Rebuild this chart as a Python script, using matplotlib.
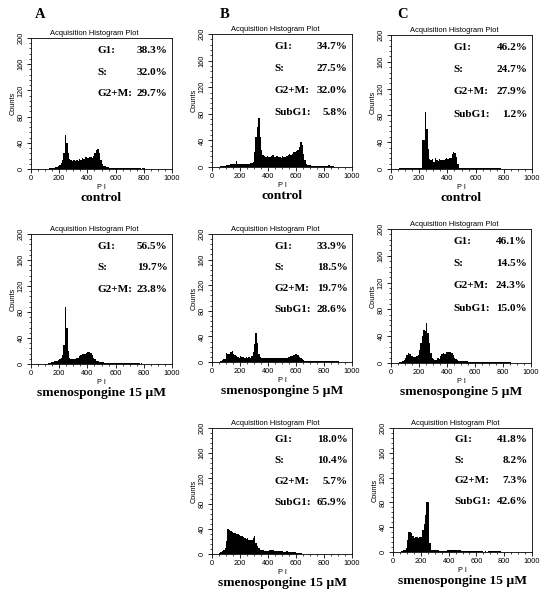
import matplotlib
matplotlib.use("Agg")
import matplotlib.pyplot as plt
from matplotlib.ticker import MultipleLocator
import numpy as np

# channel bins (width 10) 0..990, counts
bin_width = 10
channels = np.arange(0, 1000, bin_width)

counts_a1 = [0, 0, 0, 0, 0, 0, 0, 0, 0, 0,
             0, 0, 0, 2, 2, 2, 2, 3, 3, 4,
             6, 9, 14, 25, 52, 40, 25, 15, 13, 12,
             13, 12, 14, 12, 15, 13, 17, 16, 19, 18,
             17, 18, 19, 17, 20, 24, 29, 30, 24, 14,
             8, 5, 4, 3, 3, 2, 2, 2, 2, 2,
             2, 2, 2, 2, 1, 1, 2, 1, 1, 1,
             1, 1, 1, 1, 1, 1, 1, 1, 0, 1,
             1, 0, 0, 0, 0, 0, 0, 0, 0, 0,
             0, 0, 0, 0, 0, 0, 0, 0, 0, 0]

counts_a2 = [0, 0, 0, 0, 0, 0, 0, 0, 0, 0,
             0, 0, 1, 2, 3, 3, 4, 5, 5, 6,
             8, 10, 14, 30, 88, 55, 20, 10, 8, 8,
             7, 8, 9, 10, 12, 14, 15, 15, 16, 17,
             19, 18, 17, 14, 10, 7, 5, 4, 3, 3,
             3, 3, 2, 2, 2, 2, 2, 2, 1, 1,
             1, 1, 1, 1, 1, 1, 1, 1, 1, 1,
             1, 1, 1, 1, 1, 1, 1, 0, 1, 0,
             0, 0, 0, 0, 0, 0, 0, 0, 0, 0,
             0, 0, 0, 0, 0, 0, 0, 0, 0, 0]

counts_b1 = [0, 0, 0, 0, 0, 0, 2, 2, 2, 2,
             3, 3, 3, 4, 4, 4, 5, 9, 5, 4,
             4, 4, 5, 5, 5, 5, 5, 6, 6, 8,
             22, 45, 60, 74, 45, 25, 18, 16, 15, 16,
             15, 15, 16, 18, 15, 15, 16, 15, 15, 14,
             16, 15, 15, 16, 18, 19, 18, 20, 22, 22,
             24, 25, 30, 37, 33, 20, 10, 5, 3, 3,
             3, 2, 2, 2, 2, 2, 2, 2, 2, 2,
             2, 2, 2, 3, 2, 1, 1, 0, 0, 0,
             0, 0, 0, 0, 0, 0, 0, 0, 0, 0]

counts_b2 = [0, 0, 0, 0, 0, 0, 2, 3, 4, 5,
             14, 12, 13, 15, 17, 12, 11, 9, 8, 7,
             9, 8, 8, 7, 8, 7, 8, 7, 10, 15,
             28, 46, 30, 12, 8, 7, 7, 6, 7, 6,
             7, 6, 7, 7, 6, 7, 6, 7, 7, 7,
             7, 7, 6, 7, 8, 8, 9, 10, 11, 12,
             12, 11, 8, 6, 4, 3, 2, 2, 2, 2,
             2, 2, 2, 2, 2, 2, 2, 2, 2, 2,
             2, 2, 2, 2, 2, 1, 1, 1, 1, 1,
             1, 0, 0, 0, 0, 0, 0, 0, 0, 0]

counts_b3 = [0, 0, 0, 0, 0, 2, 3, 4, 6, 10,
             20, 40, 38, 36, 35, 34, 33, 32, 31, 30,
             28, 29, 27, 26, 24, 25, 23, 22, 22, 26,
             28, 18, 12, 9, 7, 6, 6, 5, 5, 5,
             5, 6, 6, 6, 5, 5, 4, 4, 4, 4,
             4, 3, 3, 4, 3, 3, 3, 3, 3, 3,
             2, 2, 1, 1, 0, 0, 0, 0, 0, 0,
             0, 0, 0, 0, 0, 0, 0, 0, 0, 0,
             0, 0, 0, 0, 0, 0, 0, 0, 0, 0,
             0, 0, 0, 0, 0, 0, 0, 0, 0, 0]

counts_c1 = [0, 0, 0, 0, 0, 0, 1, 2, 2, 2,
             2, 2, 1, 1, 1, 1, 2, 1, 1, 1,
             1, 1, 44, 44, 85, 59, 30, 15, 14, 15,
             10, 17, 13, 12, 15, 14, 13, 14, 15, 16,
             15, 16, 17, 22, 25, 24, 18, 8, 2, 2,
             1, 1, 1, 1, 1, 1, 1, 1, 1, 1,
             1, 1, 1, 1, 1, 1, 1, 1, 1, 1,
             1, 1, 1, 1, 1, 1, 1, 1, 0, 0,
             0, 0, 0, 0, 0, 0, 0, 0, 0, 0,
             0, 0, 0, 0, 0, 0, 0, 0, 0, 0]

counts_c2 = [0, 0, 0, 0, 0, 0, 1, 2, 3, 4,
             8, 12, 15, 14, 11, 10, 9, 9, 10, 12,
             20, 30, 40, 50, 48, 59, 45, 30, 15, 8,
             6, 5, 5, 7, 6, 10, 14, 15, 14, 16,
             17, 16, 17, 15, 12, 8, 6, 4, 3, 3,
             3, 3, 3, 3, 3, 2, 2, 2, 2, 2,
             2, 2, 2, 2, 2, 2, 2, 2, 2, 2,
             2, 2, 2, 2, 2, 2, 2, 2, 2, 2,
             2, 1, 1, 1, 1, 1, 0, 0, 0, 0,
             0, 0, 0, 0, 0, 0, 0, 0, 0, 0]

counts_c3 = [0, 0, 0, 0, 0, 0, 2, 3, 3, 6,
             20, 33, 33, 30, 26, 22, 25, 24, 22, 25,
             24, 35, 45, 60, 80, 80, 15, 4, 4, 4,
             4, 3, 3, 2, 2, 2, 2, 2, 2, 3,
             3, 4, 4, 4, 4, 4, 3, 3, 3, 2,
             1, 1, 1, 1, 1, 1, 1, 1, 1, 1,
             1, 1, 1, 1, 1, 0, 1, 0, 1, 1,
             1, 1, 1, 1, 1, 1, 1, 1, 0, 0,
             0, 0, 0, 0, 0, 0, 0, 0, 0, 0,
             0, 0, 0, 0, 0, 0, 0, 0, 0, 0]

phase_names_3 = ["G1:", "S:", "G2+M:"]
phase_names_4 = ["G1:", "S:", "G2+M:", "SubG1:"]
stats_a1 = ["38.3%", "32.0%", "29.7%"]
stats_a2 = ["56.5%", "19.7%", "23.8%"]
stats_b1 = ["34.7%", "27.5%", "32.0%", "5.8%"]
stats_b2 = ["33.9%", "18.5%", "19.7%", "28.6%"]
stats_b3 = ["18.0%", "10.4%", "5.7%", "65.9%"]
stats_c1 = ["46.2%", "24.7%", "27.9%", "1.2%"]
stats_c2 = ["46.1%", "14.5%", "24.3%", "15.0%"]
stats_c3 = ["41.8%", "8.2%", "7.3%", "42.6%"]

captions = ["control", "smenospongine 15 \u00b5M", "control", "smenospongine 5 \u00b5M",
            "smenospongine 15 \u00b5M", "control", "smenospongine 5 \u00b5M",
            "smenospongine 15 \u00b5M"]

# pixel boxes (left, top, right, bottom) in a 550x600 picture
W, H = 550, 600
panels = [
    (counts_a1, phase_names_3, stats_a1, captions[0], (31, 38, 172, 169)),
    (counts_a2, phase_names_3, stats_a2, captions[1], (31, 234, 172, 364)),
    (counts_b1, phase_names_4, stats_b1, captions[2], (212, 34, 352, 167)),
    (counts_b2, phase_names_4, stats_b2, captions[3], (212, 234, 352, 362)),
    (counts_b3, phase_names_4, stats_b3, captions[4], (212, 428, 352, 554)),
    (counts_c1, phase_names_4, stats_c1, captions[5], (391, 35, 532, 169)),
    (counts_c2, phase_names_4, stats_c2, captions[6], (391, 229, 531, 363)),
    (counts_c3, phase_names_4, stats_c3, captions[7], (393, 428, 532, 552)),
]

serif = "Liberation Serif"
sans = "Liberation Sans"

fig = plt.figure(figsize=(5.5, 6.0), dpi=100)

for counts, names, vals, caption, (l, t, r, b) in panels:
    ax = fig.add_axes([l / W, 1 - b / H, (r - l) / W, (b - t) / H])
    ax.bar(channels, counts, width=bin_width, align="edge", color="black", linewidth=0)
    ax.set_xlim(0, 1000)
    ax.set_ylim(0, 200)
    ax.xaxis.set_major_locator(MultipleLocator(200))
    ax.xaxis.set_minor_locator(MultipleLocator(50))
    ax.yaxis.set_major_locator(MultipleLocator(40))
    ax.yaxis.set_minor_locator(MultipleLocator(8))
    ax.tick_params(which="major", length=3, width=0.6, labelsize=5.3, pad=1.5)
    ax.tick_params(which="minor", length=1.5, width=0.5)
    for lab in ax.get_yticklabels():
        lab.set_rotation(90)
        lab.set_va("center")
    for lab in ax.get_xticklabels() + ax.get_yticklabels():
        lab.set_family(sans)
    for sp in ax.spines.values():
        sp.set_linewidth(0.6)
    ax.set_ylabel("Counts", fontsize=5.3, family=sans, labelpad=1)
    ax.set_xlabel("P I", fontsize=5.3, family=sans, labelpad=1)
    ax.set_title("Acquisition Histogram Plot", fontsize=5.4, family=sans, pad=2, x=0.45)

    label_x = 470 if len(names) == 3 else 445
    for i, (name, val) in enumerate(zip(names, vals)):
        y = 181 - 33 * i
        ax.text(label_x, y, name, fontsize=8.1, family=serif, weight="bold", va="center", ha="left")
        ax.text(968, y, val, fontsize=8.1, family=serif, weight="bold", va="center", ha="right")

    cx = (l + r) / 2 / W
    cy = 1 - (b + 29) / H
    fig.text(cx, cy, caption, fontsize=9.7, family=serif, weight="bold", ha="center", va="center")

for letter, x in [("A", 35), ("B", 220), ("C", 397)]:
    fig.text(x / W, 1 - 14 / H, letter, fontsize=10.5, family=serif, weight="bold", ha="left", va="center")

fig.savefig("out.png", dpi=100, facecolor="white")
